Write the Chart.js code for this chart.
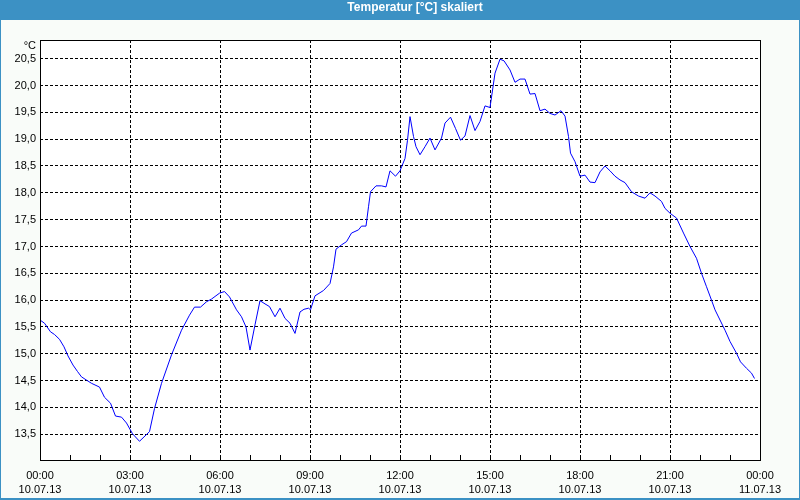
<!DOCTYPE html>
<html><head><meta charset="utf-8">
<script src="https://cdn.jsdelivr.net/npm/chart.js@4/dist/chart.umd.min.js"></script>
<style>
html,body{margin:0;padding:0;background:#fff;}
#wrap{position:relative;width:800px;height:500px;overflow:hidden;}
#title{position:absolute;left:0;top:0;width:800px;height:20px;line-height:20px;text-align:center;color:#fff;font:bold 12px "Liberation Sans",Arial,sans-serif;padding-left:30px;box-sizing:border-box;}
canvas{position:absolute;left:0;top:0;}
</style></head><body>
<div id="wrap"><canvas id="c" width="800" height="500"></canvas><div id="title">Temperatur [°C] skaliert</div></div>
<script>
// time in minutes since 10.07.13 00:00
const minutes = [0,9,21,29,39,48,56,66,75,83,93,103,119,129,141,151,163,173,185,199,219,229,243,263,283,299,309,321,333,343,359,369,379,393,403,412,420,430,440,450,459,470,480,490,500,510,520,528,537,541,550,567,580,587,592,603,613,623,637,643,652,657,661,672,683,692,700,711,720,730,735,740,747,752,760,770,780,790,803,810,821,831,841,850,860,870,880,890,900,910,920,928,940,950,960,970,980,990,1000,1010,1020,1030,1042,1050,1057,1061,1070,1080,1090,1100,1110,1120,1130,1140,1150,1160,1170,1183,1197,1210,1220,1230,1243,1250,1260,1273,1287,1300,1313,1323,1333,1343,1350,1360,1370,1380,1393,1401,1413,1423,1429];
const temps = [15.63,15.57,15.41,15.36,15.27,15.13,14.96,14.79,14.67,14.57,14.51,14.45,14.38,14.19,14.08,13.84,13.82,13.71,13.51,13.37,13.55,13.98,14.45,14.98,15.44,15.72,15.87,15.87,15.97,16.02,16.13,16.16,16.06,15.82,15.69,15.50,15.07,15.54,15.99,15.93,15.88,15.69,15.85,15.66,15.57,15.38,15.78,15.83,15.85,15.82,16.08,16.18,16.31,16.62,16.95,17.03,17.09,17.25,17.31,17.38,17.38,17.74,18.02,18.13,18.13,18.11,18.41,18.31,18.41,18.64,18.98,19.42,19.05,18.86,18.71,18.86,19.02,18.80,19.02,19.30,19.41,19.20,18.98,19.06,19.44,19.16,19.33,19.62,19.59,20.23,20.49,20.46,20.29,20.06,20.12,20.12,19.84,19.85,19.53,19.56,19.48,19.45,19.53,19.43,19.05,18.74,18.58,18.31,18.33,18.20,18.19,18.39,18.50,18.41,18.31,18.24,18.19,18.02,17.94,17.90,18.00,17.94,17.84,17.71,17.62,17.53,17.25,17.00,16.78,16.50,16.25,16.00,15.82,15.63,15.44,15.23,15.01,14.85,14.73,14.64,14.54];
const xTickTimes = ['00:00','03:00','06:00','09:00','12:00','15:00','18:00','21:00','00:00'];
const xTickDates = ['10.07.13','10.07.13','10.07.13','10.07.13','10.07.13','10.07.13','10.07.13','10.07.13','11.07.13'];
const yTickValues = [13.5,14.0,14.5,15.0,15.5,16.0,16.5,17.0,17.5,18.0,18.5,19.0,19.5,20.0,20.5];
const yTickLabels = ['13,5','14,0','14,5','15,0','15,5','16,0','16,5','17,0','17,5','18,0','18,5','19,0','19,5','20,0','20,5'];
const yUnit = '°C';

Chart.defaults.font.family = '"Liberation Sans", Arial, sans-serif';
Chart.defaults.font.size = 11;
Chart.defaults.color = '#000';

const framePlugin = {
  id: 'frame',
  beforeDraw(chart) {
    const ctx = chart.ctx, a = chart.chartArea;
    ctx.save();
    ctx.fillStyle = '#3c91c4';
    ctx.fillRect(0, 0, 800, 500);
    ctx.fillStyle = '#f9fcf9';
    ctx.fillRect(1, 20, 798, 478);
    ctx.fillStyle = '#ffffff';
    ctx.fillRect(a.left, a.top, a.right - a.left, a.bottom - a.top);
    ctx.restore();
  },
  afterDraw(chart) {
    const ctx = chart.ctx, a = chart.chartArea, xs = chart.scales.x;
    ctx.save();
    ctx.strokeStyle = '#000';
    ctx.lineWidth = 1;
    ctx.setLineDash([]);
    ctx.strokeRect(a.left + 0.5, a.top + 0.5, a.right - a.left, a.bottom - a.top);
    ctx.beginPath();
    for (let h = 1; h < 24; h++) {
      const px = Math.round(xs.getPixelForValue(h * 60)) + 0.5;
      ctx.moveTo(px, a.bottom - 5);
      ctx.lineTo(px, a.bottom);
    }
    ctx.stroke();
    ctx.fillStyle = '#000';
    ctx.font = '11px "Liberation Sans", Arial, sans-serif';
    ctx.textAlign = 'right';
    ctx.textBaseline = 'middle';
    ctx.fillText(yUnit, 36, 46);
    ctx.restore();
  }
};

new Chart(document.getElementById('c'), {
  type: 'line',
  data: {
    datasets: [{
      data: minutes.map((m, i) => ({x: m, y: temps[i]})),
      borderColor: '#0000ff',
      borderWidth: 1,
      pointRadius: 0,
      tension: 0,
      fill: false
    }]
  },
  options: {
    responsive: false,
    animation: false,
    layout: {padding: {top: 40, right: 40, left: 0, bottom: 0}},
    plugins: {legend: {display: false}, tooltip: {enabled: false}, title: {display: false}},
    scales: {
      x: {
        type: 'linear', min: 0, max: 1440,
        afterBuildTicks(s) { const t = []; for (let h = 0; h <= 24; h++) t.push({value: h * 60}); s.ticks = t; },
        afterFit(s) { s.height = 40; },
        grid: {
          drawTicks: false,
          lineWidth: 1,
          color: (c) => (c.tick && c.tick.value % 180 === 0 && c.tick.value > 0 && c.tick.value < 1440) ? '#000' : 'rgba(0,0,0,0)'
        },
        border: {display: false, dash: [3, 2]},
        ticks: {
          autoSkip: false, maxRotation: 0, padding: 9,
          font: {size: 11, lineHeight: 1.3},
          callback: (v) => v % 180 === 0 ? [xTickTimes[v / 180], xTickDates[v / 180]] : ''
        }
      },
      y: {
        type: 'linear', min: 13.021, max: 20.848,
        afterBuildTicks(s) { s.ticks = yTickValues.map(v => ({value: v})); },
        afterFit(s) { s.width = 40; },
        grid: {drawTicks: false, color: '#000', lineWidth: 1},
        border: {display: false, dash: [3, 2]},
        ticks: {
          padding: 4,
          callback: (v) => { const i = yTickValues.findIndex(t => Math.abs(t - v) < 1e-6); return i >= 0 ? yTickLabels[i] : ''; }
        }
      }
    }
  },
  plugins: [framePlugin]
});
</script>
</body></html>
